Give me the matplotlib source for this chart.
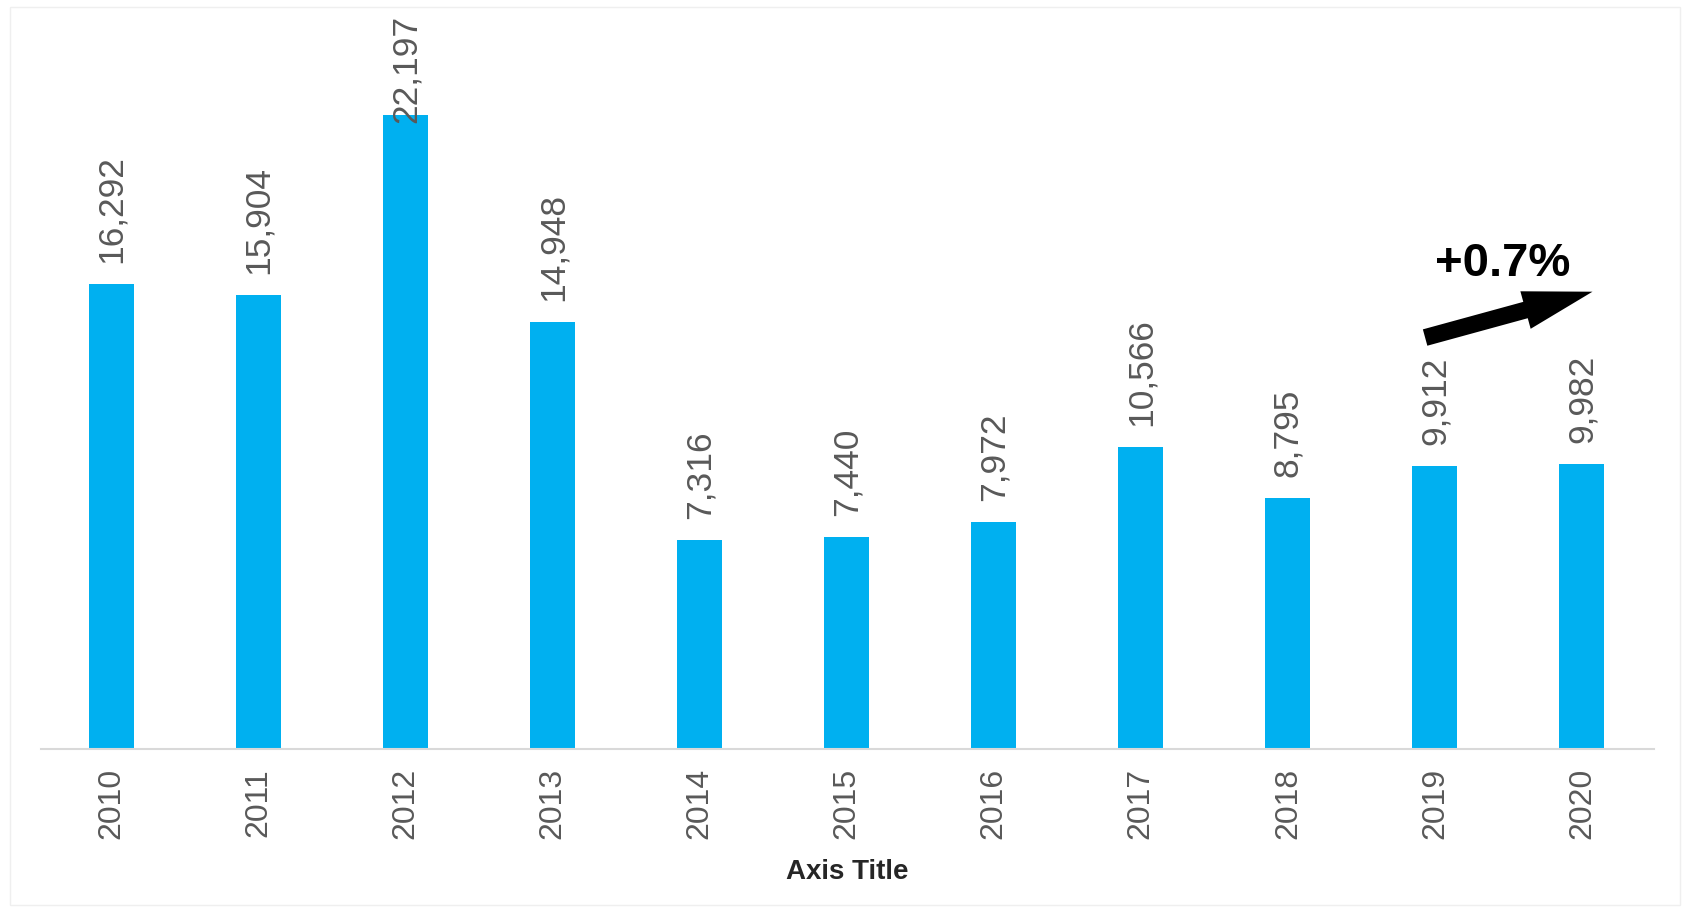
import matplotlib.pyplot as plt
from matplotlib.patches import FancyArrowPatch, Rectangle

plt.rcParams['font.family'] = ['Liberation Sans', 'DejaVu Sans']

years = ['2010', '2011', '2012', '2013', '2014', '2015', '2016', '2017', '2018', '2019', '2020']
values = [16292, 15904, 22197, 14948, 7316, 7440, 7972, 10566, 8795, 9912, 9982]
change_label = '+0.7%'

bar_color = '#00B0F0'
text_gray = '#595959'

fig = plt.figure(figsize=(16.89, 9.13), dpi=100)
ax = fig.add_axes([0.02427, 0.1791, 0.955, 0.8045])

x = list(range(len(years)))
ax.bar(x, values, width=0.306, color=bar_color, zorder=2)

ymax = 25695
ax.set_ylim(0, ymax)
ax.set_xlim(-0.481, 10.49)

# value labels (rotated); the tallest one gets pushed down to fit
gap = 735
label_h = 3745
for xi, v in zip(x, values):
    txt = f'{v:,}'
    if v + gap + label_h > ymax:
        ax.text(xi, ymax, txt, rotation=90, ha='center', va='top',
                fontsize=25.5, color=text_gray, zorder=3)
    else:
        ax.text(xi, v + gap, txt, rotation=90, ha='center', va='bottom',
                fontsize=25.5, color=text_gray, zorder=3)

ax.set_xticks(x)
ax.set_xticklabels(years, rotation=90, fontsize=23, color=text_gray)
ax.tick_params(axis='x', length=0, pad=13.3)
ax.set_yticks([])

for s in ['top', 'right', 'left']:
    ax.spines[s].set_visible(False)
ax.spines['bottom'].set_color('#d9d9d9')
ax.spines['bottom'].set_linewidth(1.5)

ax.set_xlabel('Axis Title', fontsize=20, fontweight='bold', color='#262626', labelpad=14)

# trend arrow between the last two years
arrow = FancyArrowPatch((8.915, 14385), (10.09, 16040),
                        arrowstyle='simple,head_length=50,head_width=28,tail_width=12.2',
                        mutation_scale=1, color='black', lw=0, zorder=4)
ax.add_patch(arrow)
ax.text(9.46, 17000, change_label, ha='center', va='center',
        fontsize=34, fontweight='bold', color='black', zorder=4)

# faint chart-area border
fig.patches.append(Rectangle((10 / 1689, 8 / 913), 1670 / 1689, 898 / 913,
                             transform=fig.transFigure, fill=False,
                             edgecolor='#efefef', lw=1))

fig.savefig('out.png', dpi=100)
